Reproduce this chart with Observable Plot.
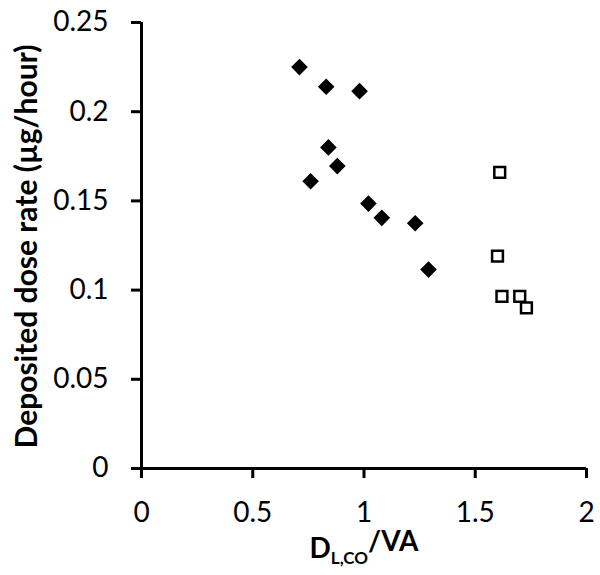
<!DOCTYPE html>
<html>
<head>
<meta charset="utf-8">
<script src="https://cdn.jsdelivr.net/npm/d3@7"></script>
<script src="https://cdn.jsdelivr.net/npm/@observablehq/plot@0.6"></script>
<style>
  html, body { margin: 0; padding: 0; background: #fff; }
  #chart { width: 600px; height: 575px; }
</style>
</head>
<body>
<div id="chart"></div>
<script>
// Filled diamonds group
const groupAX = [0.71, 0.83, 0.98, 0.84, 0.88, 0.76, 1.02, 1.08, 1.23, 1.29];
const groupAY = [0.225, 0.214, 0.2115, 0.180, 0.1695, 0.161, 0.1485, 0.1405, 0.1375, 0.1115];
// Open squares group
const groupBX = [1.61, 1.60, 1.62, 1.70, 1.73];
const groupBY = [0.166, 0.119, 0.0965, 0.0965, 0.090];

const xTicks = [0, 0.5, 1, 1.5, 2];
const yTicks = [0, 0.05, 0.1, 0.15, 0.2, 0.25];
const xTitle = ["D", "L,CO", "/VA"];
const yTitle = "Deposited dose rate (µg/hour)";

const groupA = groupAX.map((x, i) => ({x, y: groupAY[i]}));
const groupB = groupBX.map((x, i) => ({x, y: groupBY[i]}));

const plot = Plot.plot({
  width: 600,
  height: 575,
  marginLeft: 141,
  marginRight: 14,
  marginTop: 22,
  marginBottom: 107,
  style: {fontFamily: "Lato, 'Open Sans', sans-serif", fontSize: "28px", color: "#000", background: "#fff", overflow: "visible"},
  x: {domain: [0, 2]},
  y: {domain: [0, 0.25]},
  marks: [
    Plot.axisX({ticks: xTicks, tickFormat: d => String(d), tickSize: 10, tickPadding: 24, strokeWidth: 3, fontSize: 28, label: null}),
    Plot.axisY({ticks: yTicks, tickFormat: d => String(d), tickSize: 10, tickPadding: 23, strokeWidth: 3, fontSize: 28, label: null}),
    Plot.ruleX([0], {stroke: "#000", strokeWidth: 3}),
    Plot.ruleY([0], {stroke: "#000", strokeWidth: 3}),
    Plot.dot(groupA, {x: "x", y: "y", symbol: "diamond2", r: 7.5, fill: "#000", stroke: "none"}),
    Plot.dot(groupB, {x: "x", y: "y", symbol: "square", r: 6.1, fill: "#fff", stroke: "#000", strokeWidth: 2.5}),
    Plot.text([yTitle], {text: d => d, frameAnchor: "left", textAnchor: "middle", lineAnchor: "middle", rotate: -90, dx: -114, dy: 1, fontSize: 30, fontWeight: "bold", fill: "#000"}),
    Plot.text([xTitle.join("")], {text: d => d, frameAnchor: "bottom", textAnchor: "middle", lineAnchor: "middle", dy: 81, fontSize: 28, fontWeight: "bold", fill: "#000", className: "xtitle"})
  ]
});
document.getElementById("chart").appendChild(plot);

// render subscript in x title
d3.select(plot).selectAll("g.xtitle text").each(function() {
  const t = d3.select(this);
  t.text(null);
  t.append("tspan").text(xTitle[0]);
  t.append("tspan").attr("dy", "0.3em").attr("font-size", "17px").text(xTitle[1]);
  t.append("tspan").attr("dy", "-0.45em").text(xTitle[2]);
});
</script>
</body>
</html>
